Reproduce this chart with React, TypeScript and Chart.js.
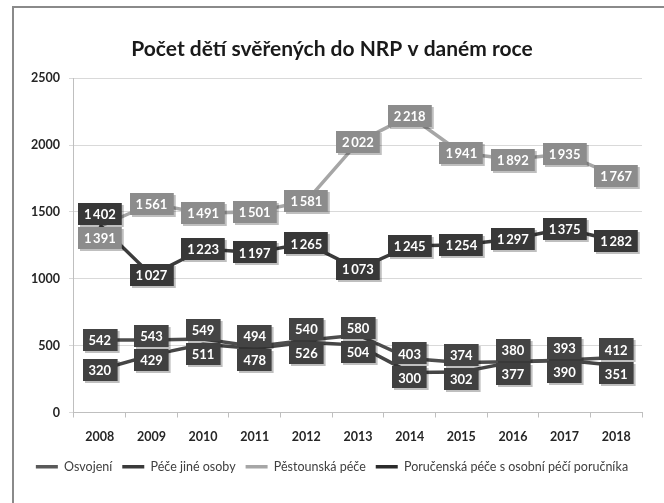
import React, { useEffect, useRef } from "react";
import { Chart, registerables } from "chart.js";

Chart.register(...registerables);

const years = ["2008", "2009", "2010", "2011", "2012", "2013", "2014", "2015", "2016", "2017", "2018"];
const osvojeni = [542, 543, 549, 494, 540, 580, 403, 374, 380, 393, 412];
const peceJineOsoby = [1402, 1027, 1223, 1197, 1265, 1073, 1245, 1254, 1297, 1375, 1282];
const pestounskaPece = [1391, 1561, 1491, 1501, 1581, 2022, 2218, 1941, 1892, 1935, 1767];
const porucenskaPece = [320, 429, 511, 478, 526, 504, 300, 302, 377, 390, 351];
const yTicks = [0, 500, 1000, 1500, 2000, 2500];

const FONT = "Lato, 'Open Sans', sans-serif";

const fmt = (v: number) =>
  v >= 1000 ? `${Math.floor(v / 1000)}\u2009${String(v % 1000).padStart(3, "0")}` : String(v);

const framePlugin = {
  id: "frame",
  beforeDraw(chart: any) {
    const { ctx, width, height } = chart;
    ctx.save();
    ctx.fillStyle = "#ffffff";
    ctx.fillRect(0, 0, width, height);
    ctx.strokeStyle = "#8a8a8a";
    ctx.lineWidth = 2;
    ctx.beginPath();
    ctx.moveTo(13, height);
    ctx.lineTo(13, 7);
    ctx.lineTo(width, 7);
    ctx.stroke();
    ctx.restore();
  },
};

const labelPlugin = {
  id: "boxLabels",
  afterDatasetsDraw(chart: any) {
    const { ctx } = chart;
    const n = chart.data.labels.length;
    const boxH = 22;
    const minSep = 24;
    ctx.save();
    ctx.font = `bold 13px ${FONT}`;
    for (let i = 0; i < n; i++) {
      const items: any[] = [];
      chart.data.datasets.forEach((ds: any, di: number) => {
        const meta = chart.getDatasetMeta(di);
        if (meta.hidden) return;
        const el = meta.data[i];
        items.push({ x: el.x, y: el.y, ly: el.y, v: ds.data[i], color: ds.labelBg });
      });
      items.sort((a, b) => a.y - b.y);
      for (let iter = 0; iter < 20; iter++) {
        for (let k = 1; k < items.length; k++) {
          const d = items[k].ly - items[k - 1].ly;
          if (d < minSep) {
            const m = (minSep - d) / 2;
            items[k].ly += m;
            items[k - 1].ly -= m;
          }
        }
      }
      items.forEach((it) => {
        const txt = fmt(it.v);
        const tw = ctx.measureText(txt).width;
        const w = tw + 12;
        const x0 = Math.round(it.x - w / 2);
        const y0 = Math.round(it.ly - boxH / 2);
        ctx.fillStyle = "rgba(0,0,0,0.25)";
        ctx.fillRect(x0 + 2, y0 + 2, w, boxH);
        ctx.fillStyle = it.color;
        ctx.fillRect(x0, y0, w, boxH);
        ctx.fillStyle = "#ffffff";
        ctx.textAlign = "center";
        ctx.textBaseline = "middle";
        ctx.fillText(txt, it.x, it.ly + 1);
      });
    }
    ctx.restore();
  },
};

export default function App() {
  const ref = useRef<HTMLCanvasElement | null>(null);
  useEffect(() => {
    if (!ref.current) return;
    const mk = (label: string, data: number[], color: string, bg: string, legendColor: string) => ({
      label,
      data,
      borderColor: color,
      backgroundColor: legendColor,
      labelBg: bg,
      borderWidth: 3.5,
      pointRadius: 0,
      tension: 0,
    });
    const chart = new Chart(ref.current, {
      type: "line",
      data: {
        labels: years,
        datasets: [
          mk("Osvojení", osvojeni, "#4d4d4d", "#444444", "#595959") as any,
          mk("Péče jiné osoby", peceJineOsoby, "#3c3c3c", "#383838", "#3a3a3a") as any,
          mk("Pěstounská péče", pestounskaPece, "#a6a6a6", "#8c8c8c", "#a6a6a6") as any,
          mk("Poručenská péče s osobní péčí poručníka", porucenskaPece, "#454545", "#404040", "#2b2b2b") as any,
        ],
      },
      options: {
        animation: false,
        responsive: false,
        layout: { padding: { left: 22, right: 22, top: 37, bottom: 20 } },
        plugins: {
          title: {
            display: true,
            text: "Počet dětí svěřených do NRP v daném roce",
            color: "#1a1a1a",
            font: { family: FONT, size: 21, weight: "bold" },
            padding: { top: 0, bottom: 16 },
          },
          legend: {
            position: "bottom",
            labels: {
              usePointStyle: true,
              pointStyle: "line",
              pointStyleWidth: 22,
              color: "#404040",
              font: { family: FONT, size: 12.5 },
              padding: 10,
              generateLabels(chart: any) {
                return chart.data.datasets.map((ds: any, i: number) => ({
                  text: ds.label,
                  fillStyle: ds.backgroundColor,
                  strokeStyle: ds.backgroundColor,
                  lineWidth: 3.5,
                  pointStyle: "line",
                  hidden: false,
                  datasetIndex: i,
                  fontColor: "#404040",
                }));
              },
            },
          },
          tooltip: { enabled: false },
        },
        scales: {
          x: {
            type: "category",
            offset: true,
            afterFit(axis: any) {
              axis.height = axis.height - 6;
            },
            grid: { offset: true, drawOnChartArea: false, drawTicks: true, tickLength: 5, color: "#bfbfbf" },
            border: { color: "#bfbfbf" },
            ticks: { color: "#262626", font: { family: FONT, size: 12.5, weight: "bold" }, padding: 12 },
          },
          y: {
            min: 0,
            max: 2500,
            afterBuildTicks(axis: any) {
              axis.ticks = yTicks.map((v) => ({ value: v }));
            },
            grid: { color: "#d9d9d9", tickLength: 5 },
            border: { color: "#bfbfbf" },
            ticks: {
              color: "#262626",
              font: { family: FONT, size: 12.5, weight: "bold" },
              padding: 9,
              callback: (v: any) => String(v),
            },
          },
        },
      },
      plugins: [framePlugin, labelPlugin],
    });
    return () => chart.destroy();
  }, []);
  return (
    <div style={{ position: "absolute", left: 0, top: 0, width: 664, height: 503 }}>
      <canvas ref={ref} width={664} height={503} style={{ display: "block" }} />
    </div>
  );
}
